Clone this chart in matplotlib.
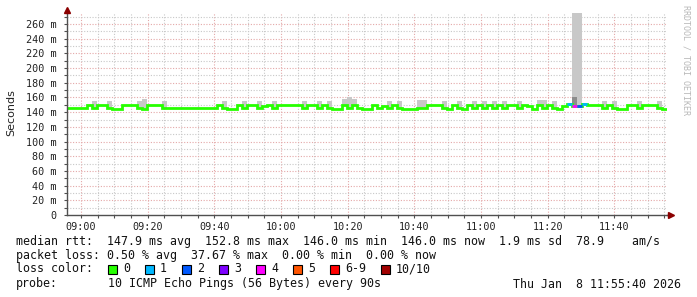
import matplotlib
matplotlib.use("Agg")
import matplotlib.pyplot as plt
from matplotlib.patches import Rectangle
from matplotlib.lines import Line2D

# ---------------- data (90 s steps from 08:55:40 to 11:55:40) ----------------
median_ms = [
    146.0, 146.0, 146.0, 146.0, 149.5, 146.0, 149.5, 149.5, 146.0, 144.5,
    144.5, 149.5, 149.5, 149.5, 146.0, 144.5, 149.5, 149.5, 149.5, 146.0,
    146.0, 146.0, 146.0, 146.0, 146.0, 146.0, 146.0, 146.0, 146.0, 146.0,
    149.5, 146.0, 144.5, 144.5, 149.5, 146.0, 149.5, 149.5, 146.0, 148.0,
    149.5, 146.0, 149.5, 149.5, 149.5, 149.5, 149.5, 146.0, 149.5, 149.5,
    146.0, 149.5, 146.0, 144.5, 144.5, 149.5, 146.0, 149.5, 146.0, 144.5,
    144.5, 149.5, 146.0, 148.0, 146.0, 149.5, 146.0, 144.5, 144.5, 144.5,
    146.0, 146.0, 149.5, 149.5, 149.5, 146.0, 144.5, 149.5, 146.0, 144.5,
    149.5, 146.0, 149.5, 146.0, 149.5, 146.0, 149.5, 146.0, 149.5, 149.5,
    146.0, 149.5, 148.0, 144.5, 149.5, 146.0, 149.5, 146.0, 144.5, 148.0,
    151.0, 148.5, 149.0, 151.0, 149.5, 149.5, 149.5, 146.0, 149.5, 146.0,
    144.5, 144.5, 149.5, 149.5, 146.0, 149.5, 149.5, 149.5, 146.0, 144.5,
]
max_ping_ms = [
    146, 146, 146, 146, 150, 155, 150, 150, 155, 145,
    145, 150, 150, 150, 155, 158, 150, 150, 150, 155,
    146, 146, 146, 146, 146, 146, 146, 146, 146, 146,
    150, 155, 145, 145, 150, 155, 150, 150, 155, 149,
    150, 155, 150, 150, 150, 150, 150, 155, 150, 150,
    155, 150, 155, 145, 145, 158, 160, 158, 146, 145,
    145, 150, 146, 149, 155, 150, 155, 145, 145, 145,
    157, 157, 150, 150, 150, 155, 145, 150, 155, 145,
    150, 155, 150, 155, 150, 155, 150, 155, 150, 150,
    155, 150, 149, 145, 157, 157, 150, 155, 145, 149,
    152, 300, 300, 153, 150, 150, 150, 155, 150, 155,
    145, 145, 150, 150, 155, 150, 150, 150, 155, 145,
]
loss_count = [
    0, 0, 0, 0, 0, 0, 0, 0, 0, 0,
    0, 0, 0, 0, 0, 0, 0, 0, 0, 0,
    0, 0, 0, 0, 0, 0, 0, 0, 0, 0,
    0, 0, 0, 0, 0, 0, 0, 0, 0, 0,
    0, 0, 0, 0, 0, 0, 0, 0, 0, 0,
    0, 0, 0, 0, 0, 0, 0, 0, 0, 0,
    0, 0, 0, 0, 0, 0, 0, 0, 0, 0,
    0, 0, 0, 0, 0, 0, 0, 0, 0, 0,
    0, 0, 0, 0, 0, 0, 0, 0, 0, 0,
    0, 0, 0, 0, 0, 0, 0, 0, 0, 0,
    1, 4, 2, 1, 0, 0, 0, 0, 0, 0,
    0, 0, 0, 0, 0, 0, 0, 0, 0, 0,
]
dark_smoke_steps = [101, 103]
dark_smoke_top = [160, 153]

start_min = -4.333          # minutes relative to 09:00 (08:55:40)
step_min = 1.5
xtick_min = [0, 20, 40, 60, 80, 100, 120, 140, 160]
xtick_labels = ["09:00", "09:20", "09:40", "10:00", "10:20", "10:40", "11:00", "11:20", "11:40"]
ytick_vals = [0, 20, 40, 60, 80, 100, 120, 140, 160, 180, 200, 220, 240, 260]
ytick_labels = ["0"] + [f"{v} m" for v in ytick_vals[1:]]

loss_labels = ["0", "1", "2", "3", "4", "5", "6-9", "10/10"]
loss_colors = ["#26ff00", "#00b8ff", "#0059ff", "#7e00ff", "#ff00ff", "#ff5500", "#ff0000", "#a10000"]
loss_to_color = {0: 0, 1: 1, 2: 2, 3: 3, 4: 4, 5: 5, 6: 6, 7: 6, 8: 6, 9: 6, 10: 7}

legend_lines = [
    "median rtt:  147.9 ms avg  152.8 ms max  146.0 ms min  146.0 ms now  1.9 ms sd  78.9    am/s",
    "packet loss: 0.50 % avg  37.67 % max  0.00 % min  0.00 % now",
]
probe_text = "10 ICMP Echo Pings (56 Bytes) every 90s"
date_text = "Thu Jan  8 11:55:40 2026"

# ---------------- figure ----------------
W, Hh = 697, 297
fig = plt.figure(figsize=(W / 100, Hh / 100), dpi=100)
fig.patch.set_facecolor("white")

def fx(px):
    return px / W

def fy(py):
    return 1 - py / Hh

ax_l, ax_r, ax_t, ax_b = 66.7, 666.6, 13.0, 215.0
ax = fig.add_axes([fx(ax_l), fy(ax_b), (ax_r - ax_l) / W, (ax_b - ax_t) / Hh])
ax.set_facecolor("white")
n = len(median_ms)
xmin = start_min
xmax = start_min + step_min * n
ax.set_xlim(xmin, xmax)
ax.set_ylim(0, 275)

# grid
for m in range(-0, 180, 5):
    if xmin < m < xmax:
        major = (m % 20 == 0)
        ax.axvline(m, color="#e4a8a8" if major else "#c8c8c8", lw=0.8,
                   linestyle=(0, (1, 1.5)), zorder=0)
for v in range(10, 275, 10):
    major = (v % 20 == 0)
    ax.axhline(v, color="#e4a8a8" if major else "#c8c8c8", lw=0.8,
               linestyle=(0, (1, 1.5)), zorder=0)

# smoke
lefts = [start_min + step_min * i for i in range(n)]
for i in range(n):
    if max_ping_ms[i] > median_ms[i] + 1:
        ax.bar(lefts[i], max_ping_ms[i] - median_ms[i], bottom=median_ms[i],
               width=step_min, align="edge", color="#c8c8c8", linewidth=0, zorder=1)
for s, top in zip(dark_smoke_steps, dark_smoke_top):
    ax.bar(lefts[s], top - median_ms[s], bottom=median_ms[s], width=step_min,
           align="edge", color="#8c8c8c", linewidth=0, zorder=1.5)

# median line
edges = [start_min + step_min * i for i in range(n + 1)]
ax.stairs(median_ms, edges, baseline=None, color=loss_colors[0], lw=2.0, zorder=3)
for i in range(n):
    if loss_count[i] > 0:
        c = loss_colors[loss_to_color[loss_count[i]]]
        ax.plot([edges[i], edges[i + 1]], [median_ms[i], median_ms[i]], color=c,
                lw=2.0, solid_capstyle="butt", zorder=4)

# axes styling
for sp in ["top", "right"]:
    ax.spines[sp].set_visible(False)
for sp in ["left", "bottom"]:
    ax.spines[sp].set_color("#505050")
    ax.spines[sp].set_linewidth(1.0)
    ax.spines[sp].set_zorder(5)

mono = "DejaVu Sans Mono"
ax.set_xticks(xtick_min)
ax.set_xticklabels(xtick_labels, fontfamily=mono, fontsize=7.3, color="#222222")
ax.set_xticks([m for m in range(-0, 180, 5) if xmin < m < xmax], minor=True)
ax.set_yticks(ytick_vals)
ax.set_yticklabels(ytick_labels, fontfamily=mono, fontsize=7.3, color="#222222")
ax.set_yticks(list(range(10, 275, 20)), minor=True)
ax.tick_params(axis="x", which="both", length=2, width=0.8, color="#505050", pad=3)
ax.tick_params(axis="y", which="both", length=2, width=0.8, color="#505050", pad=5)

# axis extensions and arrows
fig.add_artist(Line2D([fx(ax_l), fx(ax_l)], [fy(ax_t), fy(9)], color="#505050", lw=1.0))
fig.add_artist(Line2D([fx(ax_r), fx(670)], [fy(ax_b), fy(ax_b)], color="#505050", lw=1.0))
fig.add_artist(Line2D([fx(ax_l)], [fy(9.5)], marker="^", markersize=4, color="#8b0000", lw=0))
fig.add_artist(Line2D([fx(671)], [fy(ax_b)], marker=">", markersize=4, color="#8b0000", lw=0))

# labels
fig.text(fx(11), fy(113), "Seconds", rotation=90, ha="center", va="center",
         fontsize=8, color="#222222", fontfamily="DejaVu Sans")
fig.text(fx(686), fy(5), "RRDTOOL / TOBI OETIKER", rotation=-90, ha="center", va="top",
         fontsize=6.0, color="#b8b8b8", fontfamily=mono)

# legend text
lf = 8.4
fig.text(fx(16), fy(241), legend_lines[0], ha="left", va="center", fontsize=lf, fontfamily=mono, color="#111111")
fig.text(fx(16), fy(255), legend_lines[1], ha="left", va="center", fontsize=lf, fontfamily=mono, color="#111111")
fig.text(fx(16), fy(269), "loss color:", ha="left", va="center", fontsize=lf, fontfamily=mono, color="#111111")
box_x = 108.0
for lab, col in zip(loss_labels, loss_colors):
    fig.add_artist(Rectangle((fx(box_x), fy(273.5)), 8.5 / W, 9 / Hh, facecolor=col,
                             edgecolor="#000000", linewidth=0.8, transform=fig.transFigure))
    fig.text(fx(box_x + 15), fy(269), lab, ha="left", va="center", fontsize=lf,
             fontfamily=mono, color="#111111")
    box_x += 37.0 + 7.04 * (len(lab) - 1)
fig.text(fx(16), fy(284), "probe:", ha="left", va="center", fontsize=lf, fontfamily=mono, color="#111111")
fig.text(fx(107.5), fy(284), probe_text, ha="left", va="center", fontsize=lf, fontfamily=mono, color="#111111")
fig.text(fx(681), fy(284), date_text, ha="right", va="center", fontsize=lf, fontfamily=mono, color="#111111")

fig.savefig("out.png", dpi=100, facecolor="white")
